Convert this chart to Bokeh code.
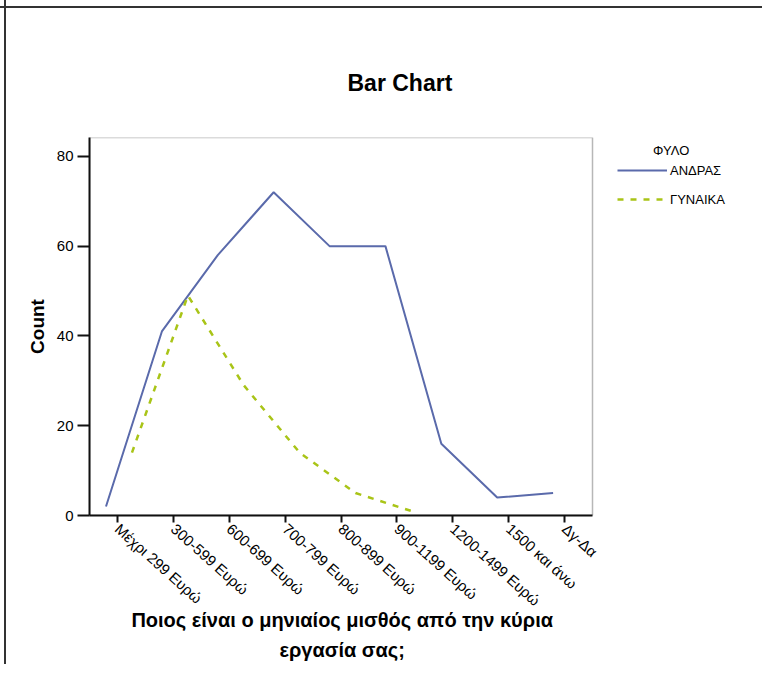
from bokeh.plotting import figure
from bokeh.models import (Range1d, FixedTicker, Legend, LegendItem,
                          ColumnDataSource, BoxAnnotation)
from bokeh.transform import dodge
from bokeh.embed import file_html
from bokeh.resources import INLINE

# ---- data ----
categories = ["Μέχρι 299 Ευρώ", "300-599 Ευρώ", "600-699 Ευρώ", "700-799 Ευρώ",
              "800-899 Ευρώ", "900-1199 Ευρώ", "1200-1499 Ευρώ", "1500 και άνω", "Δγ-Δα"]
men_counts = [2, 41, 58, 72, 60, 60, 16, 4, 5]
women_counts = [14, 49, 29, 14, 5, 1]          # first six categories
y_ticks = [0, 20, 40, 60, 80]
series_names = ["ΑΝΔΡΑΣ", "ΓΥΝΑΙΚΑ"]
legend_title = "ΦΥΛΟ"
chart_title = "Bar Chart"
y_title = "Count"
x_title_lines = ["Ποιος είναι ο μηνιαίος μισθός από την κύρια", "εργασία σας;"]

# ---- layout ----
W, H = 762, 664
BL, BR, BT, BB = 89, 12, 137, 146
FONT = "Liberation Sans"
MEN_COLOR = "#5a6aab"
WOMEN_COLOR = "#a9c417"
N = len(categories)
CAT_PX = 503 / N                                   # pixels per category
X_END = (W - BL - BR) / CAT_PX - 0.5               # extra room on the right for the legend

cat_pos = list(range(N))
p = figure(width=W, height=H, x_range=Range1d(-0.5, X_END),
           y_range=Range1d(0, 84.2), output_backend="svg", toolbar_location=None,
           min_border_left=BL, min_border_right=BR, min_border_top=BT,
           min_border_bottom=BB)
p.grid.visible = False
p.outline_line_color = None
p.background_fill_color = "white"
p.border_fill_alpha = 0
p.styles = {
    "background-image": ("linear-gradient(to right, transparent 4px, #333 4px, #333 6px, transparent 6px), "
                         "linear-gradient(to bottom, transparent 6px, #333 6px, #333 8px, transparent 8px)"),
    "background-repeat": "no-repeat",
    "background-color": "white",
}

men_src = ColumnDataSource(dict(x=cat_pos, y=men_counts))
women_src = ColumnDataSource(dict(x=cat_pos[:len(women_counts)], y=women_counts))

r_men = p.line(x=dodge("x", -0.205), y="y", source=men_src,
               line_color=MEN_COLOR, line_width=2)
r_women = p.line(x=dodge("x", 0.26), y="y", source=women_src,
                 line_color=WOMEN_COLOR, line_width=2.5, line_dash="6 7")

# chart box (top and right edges of the category area)
p.add_layout(BoxAnnotation(left=-0.5, right=N - 0.5, bottom=0, top=84.2,
                           fill_alpha=0, line_color="#111111", line_width=1.5))

# title
p.title.text = chart_title
p.title.align = "left"
p.title.offset = 258
p.title.standoff = 84
p.title.text_font = FONT
p.title.text_font_style = "bold"
p.title.text_font_size = "23px"
p.title.text_color = "black"

# x axis
xa = p.xaxis[0]
xa.bounds = (-0.5, N - 0.5)
xa.ticker = FixedTicker(ticks=cat_pos)
xa.major_label_overrides = {i: c for i, c in zip(cat_pos, categories)}
xa.minor_tick_line_color = None
xa.major_label_orientation = -0.73
xa.major_label_text_font = FONT
xa.major_label_text_font_size = "15px"
xa.major_label_text_color = "black"
xa.major_tick_out = 7
xa.major_tick_in = 0
xa.major_tick_line_width = 2
xa.major_tick_line_color = "#111111"
xa.axis_line_width = 2
xa.axis_line_color = "#111111"
xa.major_label_standoff = 4

# x axis title: centred lines; trailing no-break spaces move the centre of the
# text block from the middle of the (wide) frame to the middle of the category area
XT_SIZE = 20
shift_px = 2 * ((W - BL - BR) / 2 - 503 / 2)
pad = "\u00a0" * round(shift_px / (0.278 * XT_SIZE))
xa.axis_label = "\n".join(line + pad for line in x_title_lines)
xa.axis_label_text_font = FONT
xa.axis_label_text_font_style = "bold"
xa.axis_label_text_font_size = f"{XT_SIZE}px"
xa.axis_label_text_color = "black"
xa.axis_label_text_line_height = 1.35
xa.axis_label_standoff = -9

# y axis
ya = p.yaxis[0]
ya.ticker = FixedTicker(ticks=y_ticks)
ya.minor_tick_line_color = None
ya.major_label_text_font = FONT
ya.major_label_text_font_size = "15px"
ya.major_label_text_color = "black"
ya.major_tick_out = 12
ya.major_tick_in = 0
ya.major_tick_line_width = 2
ya.major_tick_line_color = "#111111"
ya.axis_line_width = 2
ya.axis_line_color = "#111111"
ya.major_label_standoff = 4
ya.axis_label = y_title
ya.axis_label_text_font = FONT
ya.axis_label_text_font_style = "bold"
ya.axis_label_text_font_size = "19px"
ya.axis_label_text_color = "black"
ya.axis_label_standoff = 6

# legend (inside the wide frame, right of the chart box)
legend = Legend(items=[LegendItem(label=series_names[0], renderers=[r_men]),
                       LegendItem(label=series_names[1], renderers=[r_women])],
                title="\u00a0" * 10 + legend_title,
                title_text_font=FONT, title_text_font_size="13px",
                title_text_font_style="normal", title_text_color="black",
                title_standoff=2,
                location=(528, 306), glyph_width=50, glyph_height=20, label_height=20,
                spacing=9, padding=0, margin=0, label_standoff=3,
                border_line_alpha=0, background_fill_alpha=0,
                label_text_font=FONT, label_text_font_size="13px",
                label_text_color="black")
p.add_layout(legend)

open("out.html", "w").write(file_html(p, INLINE))
